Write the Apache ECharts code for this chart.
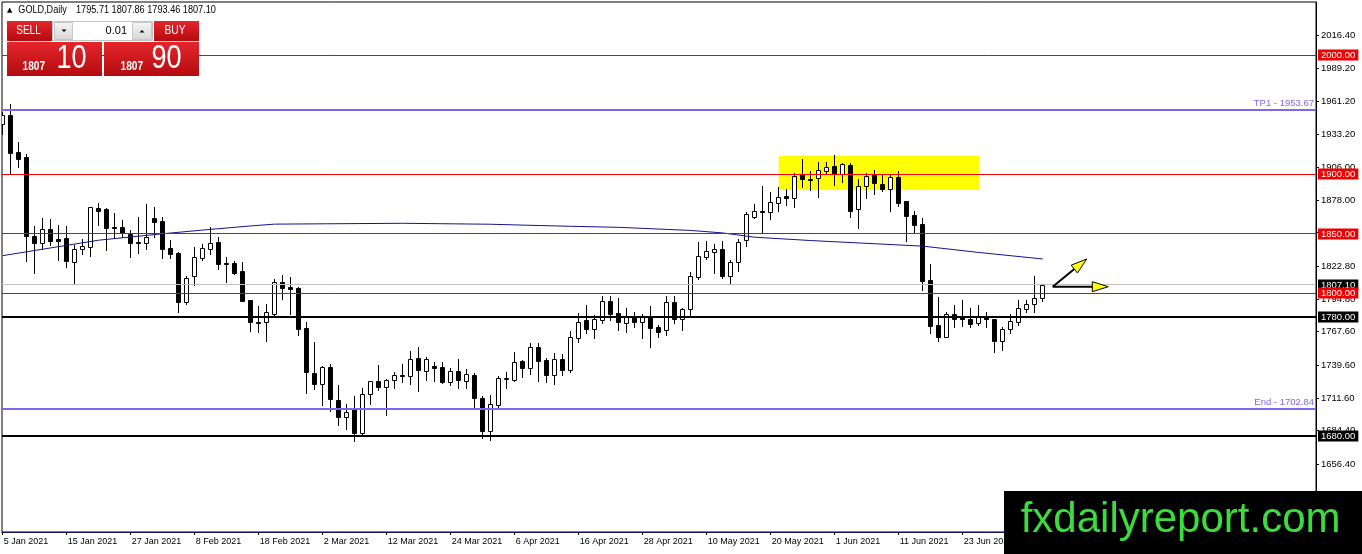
<!DOCTYPE html>
<html>
<head>
<meta charset="utf-8">
<script src="https://cdn.jsdelivr.net/npm/echarts@6/dist/echarts.min.js"></script>
<style>
html,body{margin:0;padding:0;background:#fff;}
#c{width:1362px;height:554px;}
</style>
</head>
<body>
<div id="c"></div>
<script>
// ---- data ----
const tickLabels = ['5 Jan 2021','15 Jan 2021','27 Jan 2021','8 Feb 2021','18 Feb 2021','2 Mar 2021','12 Mar 2021','24 Mar 2021','6 Apr 2021','16 Apr 2021','28 Apr 2021','10 May 2021','20 May 2021','1 Jun 2021','11 Jun 2021','23 Jun 2021','5 Jul 2021'];
const barsPerLabel = 8;

const opens = [
1941.9,1949.7,1918.6,1914.4,1848.3,1842.4,1853.9,1845.2,1846.3,1826.4,
1836.8,1839.0,1871.8,1870.4,1855.9,1855.9,1849.7,1843.3,1841.9,1863.4,
1860.6,1837.6,1833.5,1792.8,1814.7,1829.8,1837.4,1842.7,1825.6,1825.0,
1818.6,1794.2,1775.9,1775.5,1782.2,1809.1,1804.9,1804.3,1770.4,1732.6,
1723.9,1737.6,1710.2,1696.1,1702.3,1682.7,1714.9,1726.1,1721.4,1726.7,
1731.2,1730.6,1745.2,1734.8,1738.7,1738.2,1725.6,1734.5,1726.4,1731.2,
1711.6,1684.4,1706.0,1727.6,1727.0,1742.9,1736.8,1754.4,1743.8,1731.2,
1744.3,1735.4,1762.6,1777.4,1769.9,1777.4,1793.4,1783.0,1774.6,1780.2,
1776.0,1779.7,1771.8,1769.0,1792.3,1778.0,1786.4,1813.3,1830.7,1834.9,
1837.1,1814.7,1825.9,1844.7,1864.3,1869.0,1868.5,1876.0,1881.4,1880.2,
1899.9,1895.9,1896.5,1902.9,1906.9,1900.1,1907.7,1870.4,1890.3,1899.3,
1891.7,1887.5,1897.3,1877.4,1865.7,1858.1,1811.0,1773.2,1763.4,1782.5,
1779.6,1778.3,1774.6,1779.6,1778.0,1760.0,1769.6,1776.0,1786.4,1790.6,1795.71];
const highs = [
1952.5,1959.0,1926.8,1916.9,1856.4,1863.2,1862.6,1857.3,1856.4,1840.2,
1845.2,1872.7,1875.5,1871.3,1867.6,1861.5,1853.1,1864.3,1874.9,1872.1,
1864.3,1844.6,1834.3,1814.4,1839.1,1841.3,1855.9,1847.4,1830.6,1827.3,
1825.9,1794.5,1789.2,1790.6,1811.6,1815.2,1813.3,1805.0,1775.4,1758.6,
1739.0,1740.2,1722.5,1706.5,1713.5,1720.0,1726.5,1739.6,1727.8,1734.0,
1740.2,1751.3,1754.4,1746.0,1742.4,1742.4,1737.3,1744.6,1735.9,1733.1,
1713.5,1714.4,1730.6,1734.0,1750.2,1743.8,1758.4,1757.8,1745.7,1749.4,
1748.8,1768.4,1783.0,1790.0,1781.6,1797.9,1797.9,1795.6,1787.2,1784.4,
1782.5,1789.2,1773.2,1797.9,1797.9,1787.2,1817.5,1843.3,1844.1,1841.3,
1843.8,1827.8,1845.5,1868.5,1874.9,1890.3,1884.7,1889.5,1887.3,1900.7,
1912.5,1903.0,1910.5,1910.5,1916.1,1909.0,1909.1,1895.7,1900.7,1903.5,
1899.3,1899.3,1902.7,1877.8,1869.3,1862.9,1824.5,1797.0,1783.9,1790.0,
1794.2,1787.2,1790.0,1784.4,1778.3,1771.8,1782.5,1794.2,1794.2,1814.4,1807.86];
const lows = [
1933.5,1900.1,1906.3,1827.0,1816.6,1836.8,1840.5,1827.8,1822.2,1808.8,
1832.6,1831.5,1857.3,1836.3,1846.0,1847.4,1830.6,1833.4,1836.8,1847.4,
1829.2,1829.2,1784.4,1790.9,1806.8,1827.8,1832.9,1820.3,1809.6,1815.8,
1793.0,1768.4,1767.6,1760.0,1781.1,1794.8,1782.5,1764.5,1716.3,1719.1,
1706.0,1701.2,1689.1,1685.8,1675.7,1681.3,1706.8,1718.6,1697.5,1720.5,
1725.6,1723.3,1718.0,1727.0,1726.1,1724.2,1722.8,1720.5,1720.0,1704.6,
1677.9,1676.5,1704.6,1720.0,1726.1,1729.8,1732.0,1726.4,1725.6,1723.3,
1731.2,1734.0,1758.6,1766.2,1762.6,1775.2,1777.4,1769.0,1767.6,1771.8,
1762.0,1755.0,1763.4,1764.8,1774.6,1769.0,1781.6,1811.9,1828.7,1816.6,
1812.4,1807.4,1818.9,1839.9,1862.9,1850.3,1862.3,1869.3,1874.1,1872.1,
1889.5,1886.7,1881.1,1900.7,1890.9,1893.7,1864.3,1855.0,1880.2,1883.0,
1885.8,1869.0,1873.5,1844.1,1850.3,1802.6,1766.2,1759.8,1763.0,1771.8,
1772.6,1771.8,1773.2,1771.8,1750.2,1752.2,1766.2,1773.2,1783.9,1783.9,1793.46];
const closes = [
1949.7,1917.5,1913.0,1848.3,1842.4,1853.9,1844.1,1844.1,1827.3,1836.8,
1839.6,1872.1,1869.3,1855.0,1854.5,1850.3,1842.4,1841.9,1847.4,1860.1,
1837.1,1832.9,1792.8,1813.0,1830.1,1837.6,1841.9,1824.8,1824.2,1817.2,
1793.7,1775.5,1775.2,1783.9,1809.1,1804.6,1803.8,1769.6,1734.0,1723.9,
1737.6,1710.7,1696.1,1699.8,1682.7,1714.9,1726.1,1721.4,1727.0,1731.2,
1730.6,1744.3,1735.4,1744.3,1737.3,1725.6,1734.8,1726.7,1731.7,1711.6,
1684.4,1706.5,1728.4,1728.4,1742.4,1736.8,1754.4,1743.2,1731.2,1744.3,
1735.4,1762.8,1776.0,1769.9,1778.0,1793.4,1782.5,1776.0,1779.7,1776.0,
1779.7,1770.9,1767.6,1792.3,1778.0,1786.4,1814.4,1831.2,1835.7,1837.1,
1814.4,1825.9,1842.7,1866.5,1869.0,1868.5,1876.3,1880.5,1880.2,1898.5,
1895.7,1895.4,1903.5,1905.7,1900.1,1908.5,1869.3,1890.3,1898.5,1892.3,
1887.5,1897.3,1876.0,1865.1,1857.3,1810.5,1772.6,1763.4,1782.5,1778.0,
1778.0,1774.0,1780.2,1778.0,1760.0,1769.6,1776.6,1787.2,1790.9,1795.6,1807.10];

// moving average read at a few bars
const maBars   = [0, 12, 20, 25, 31, 34, 50, 61, 66, 71, 77, 86, 90, 94, 101, 115, 122, 130];
const maValues = [1831.5,1844.5,1849.9,1853.0,1856.5,1858.0,1858.7,1857.9,1857.0,1856.2,1855.3,1852.7,1850.6,1847.0,1844.2,1839.5,1834.2,1828.7];

// horizontal levels (value, kind index: 0 red, 1 TP, 2 bid, 3 black, 4 End)
const levelValues = [2000, 1953.67, 1900, 1850, 1807.10, 1800, 1780, 1702.84, 1680];
const levelKinds  = [0, 1, 0, 0, 2, 0, 3, 4, 3];

// right axis tick labels
const priceTicks = [2016.40,1989.20,1961.20,1933.20,1906.00,1878.00,1850.80,1822.80,1794.80,1767.60,1739.60,1711.60,1684.40,1656.40];

// yellow zone and arrows (bar index, price)
const zoneFrom = [97.0, 1915.3];
const zoneTo   = [122.1, 1886.7];
const arrows = [[131.25, 1805.4, 135.5, 1828.7],[131.25, 1805.4, 138.2, 1805.4]];

// header quote
const quote = {symbol:'GOLD,Daily', open:'1795.71', high:'1807.86', low:'1793.46', close:'1807.10', bidBig:'1807', bidSmall:'10', askBig:'1807', askSmall:'90', lot:'0.01'};

// ---- chart ----
const FONT = 'Liberation Sans';
const chart = echarts.init(document.getElementById('c'), null, {renderer:'canvas'});

const candleData = opens.map((o,i)=>[i,o,highs[i],lows[i],closes[i]]);
const maData = maBars.map((b,i)=>[b,maValues[i]]);
const levelData = levelValues.map((v,i)=>[0, v, levelKinds[i]]);

const KIND_STYLE = [
  {line:'#f00000', width:1, box:'#f00000'},
  {line:'#7b68ee', width:2, text:'TP1 - '},
  {line:'#c0c0c0', width:1, box:'#000000'},
  {line:'#000000', width:2, box:'#000000'},
  {line:'#7b68ee', width:2, text:'End - '}
];

const redGrad = ()=> new echarts.graphic.LinearGradient(0,0,0,1,[{offset:0,color:'#e4262b'},{offset:1,color:'#b30b10'}]);
const greyGrad = ()=> new echarts.graphic.LinearGradient(0,0,0,1,[{offset:0,color:'#f6f6f6'},{offset:1,color:'#d6d6d6'}]);

const option = {
  animation:false,
  backgroundColor:'#fff',
  textStyle:{fontFamily:FONT},
  grid:{left:2, top:2, width:1314, height:530, show:true, borderColor:'#000', borderWidth:1, backgroundColor:'#fff', containLabel:false, outerBoundsMode:'none'},
  xAxis:{
    type:'value', min:-0.0875, max:164.1625, position:'bottom',
    axisLine:{show:true, onZero:false, lineStyle:{color:'#16165c', width:1}},
    axisTick:{show:true, length:3, lineStyle:{color:'#000'}, customValues:tickLabels.map((t,i)=>i*barsPerLabel)},
    axisLabel:{show:true, customValues:tickLabels.map((t,i)=>i*barsPerLabel), formatter:(v)=>tickLabels[Math.round(v/barsPerLabel)]||'',
      align:'left', margin:5, fontSize:9, color:'#000', fontFamily:FONT, padding:[0,0,0,1]},
    splitLine:{show:false}
  },
  yAxis:{
    type:'value', min:1599.19, max:2044.73, position:'right',
    axisLine:{show:true, onZero:false, lineStyle:{color:'#000', width:1}},
    axisTick:{show:true, length:3, lineStyle:{color:'#000'}, customValues:priceTicks},
    axisLabel:{show:true, customValues:priceTicks, formatter:(v)=>v.toFixed(2), margin:5, fontSize:9.5, color:'#000', fontFamily:FONT},
    splitLine:{show:false}
  },
  series:[
    {
      type:'custom', name:'GOLD', z:2, silent:true, clip:true,
      encode:{x:0, y:[1,2,3,4]},
      data:candleData,
      renderItem:function(params, api){
        const i=api.value(0), o=api.value(1), h=api.value(2), l=api.value(3), c=api.value(4);
        const pO=api.coord([i,o]), pC=api.coord([i,c]), pH=api.coord([i,h]), pL=api.coord([i,l]);
        const cx=Math.floor(pO[0])+0.5;
        const top=Math.round(Math.min(pO[1],pC[1]))+0.5;
        const bot=Math.max(Math.round(Math.max(pO[1],pC[1]))+0.5, top);
        const bull=c>o;
        return {type:'group', children:[
          {type:'line', shape:{x1:cx, y1:Math.round(pH[1]), x2:cx, y2:Math.round(pL[1])+1}, style:{stroke:'#000', lineWidth:1}},
          {type:'rect', shape:{x:cx-2, y:top, width:4, height:bot-top}, style:{fill:bull?'#fff':'#000', stroke:'#000', lineWidth:1}}
        ]};
      },
      markArea:{silent:true, itemStyle:{color:'#ffff00', opacity:1, borderWidth:0},
        data:[[{coord:zoneFrom},{coord:zoneTo}]]}
    },
    {
      type:'line', name:'MA', z:3, silent:true, data:maData, showSymbol:false, symbol:'none', clip:true,
      lineStyle:{color:'#14148c', width:1}
    },
    {
      type:'custom', name:'levels', z:5, silent:true, clip:false,
      encode:{x:0, y:1},
      data:levelData,
      renderItem:function(params, api){
        const v=api.value(1), k=KIND_STYLE[api.value(2)];
        const cs=params.coordSys;
        const p=api.coord([0, v]);
        const y = k.width===1 ? Math.round(p[1]-0.5)+0.5 : Math.round(p[1]);
        const txt=v.toFixed(2);
        const children=[{type:'line', shape:{x1:cs.x, y1:y, x2:cs.x+cs.width, y2:y}, style:{stroke:k.line, lineWidth:k.width}}];
        if(k.box){
          children.push({type:'text', x:cs.x+cs.width+2, y:Math.round(p[1]), style:{text:txt, fill:'#fff', backgroundColor:k.box,
            padding:[1,3,0,3], fontSize:9.5, fontFamily:FONT, lineHeight:10, align:'left', verticalAlign:'middle'}});
        } else {
          children.push({type:'text', x:cs.x+cs.width-2, y:Math.round(p[1])-2, style:{text:k.text+txt, fill:k.line,
            fontSize:9.5, fontFamily:FONT, align:'right', verticalAlign:'bottom'}});
        }
        return {type:'group', children:children};
      }
    },
    {
      type:'custom', name:'arrows', z:6, silent:true, clip:false,
      encode:{x:[0,2], y:[1,3]},
      data:arrows,
      renderItem:function(params, api){
        const a=api.coord([api.value(0),api.value(1)]);
        const b=api.coord([api.value(2),api.value(3)]);
        const dx=b[0]-a[0], dy=b[1]-a[1], len=Math.hypot(dx,dy), ux=dx/len, uy=dy/len;
        const L=16, W=5;
        const bx=b[0]-ux*L, by=b[1]-uy*L;
        return {type:'group', children:[
          {type:'line', shape:{x1:a[0],y1:a[1],x2:bx+ux*2,y2:by+uy*2}, style:{stroke:'#000', lineWidth:2}},
          {type:'polygon', shape:{points:[[b[0],b[1]],[bx-uy*W,by+ux*W],[bx+uy*W,by-ux*W]]}, style:{fill:'#ffff00', stroke:'#000', lineWidth:1}}
        ]};
      }
    }
  ],
  graphic:{elements:[
    // header
    {type:'text', x:7, y:10, z:100, style:{text:'▲', fontSize:7, fill:'#000', verticalAlign:'middle', fontFamily:'DejaVu Sans'}},
    {type:'text', x:18.3, y:10, z:100, scaleX:0.91, style:{text:quote.symbol, fontSize:10, fill:'#000', verticalAlign:'middle', fontFamily:FONT}},
    {type:'text', x:76, y:10, z:100, scaleX:0.915, style:{text:[quote.open,quote.high,quote.low,quote.close].join(' '), fontSize:10, fill:'#000', verticalAlign:'middle', fontFamily:FONT}},
    // sell / buy buttons
    {type:'rect', z:100, shape:{x:7,y:21,width:45,height:20}, style:{fill:redGrad()}},
    {type:'rect', z:100, shape:{x:154,y:21,width:45,height:20}, style:{fill:redGrad()}},
    {type:'text', z:101, x:28.5, y:31, scaleX:0.8, style:{text:'SELL', fontSize:12.5, fill:'#fff', align:'center', verticalAlign:'middle', fontFamily:FONT}},
    {type:'text', z:101, x:175, y:31, scaleX:0.82, style:{text:'BUY', fontSize:12.5, fill:'#fff', align:'center', verticalAlign:'middle', fontFamily:FONT}},
    {type:'line', z:101, shape:{x1:10,y1:41.5,x2:50,y2:41.5}, style:{stroke:'rgba(255,190,190,0.9)', lineWidth:1}},
    {type:'line', z:101, shape:{x1:158,y1:41.5,x2:196,y2:41.5}, style:{stroke:'rgba(255,190,190,0.9)', lineWidth:1}},
    // lot spinner
    {type:'rect', z:100, shape:{x:52.5,y:21.5,width:100,height:19}, style:{fill:'#fff', stroke:'#c4c4c4', lineWidth:1}},
    {type:'rect', z:101, shape:{x:54.5,y:22.5,width:18,height:17}, style:{fill:greyGrad(), stroke:'#c8c8c8', lineWidth:1}},
    {type:'rect', z:101, shape:{x:132.5,y:22.5,width:19,height:17}, style:{fill:greyGrad(), stroke:'#c8c8c8', lineWidth:1}},
    {type:'polygon', z:102, shape:{points:[[61.5,29.5],[66.5,29.5],[64,32]]}, style:{fill:'#000'}},
    {type:'polygon', z:102, shape:{points:[[139.5,32.5],[144.5,32.5],[142,30]]}, style:{fill:'#000'}},
    {type:'text', z:102, x:127, y:31, style:{text:quote.lot, fontSize:11, fill:'#000', align:'right', verticalAlign:'middle', fontFamily:FONT}},
    // price boxes
    {type:'rect', z:100, shape:{x:7,y:42,width:95,height:34}, style:{fill:redGrad()}},
    {type:'rect', z:100, shape:{x:104,y:42,width:95,height:34}, style:{fill:redGrad()}},
    {type:'text', z:101, x:22.5, y:66, scaleX:0.78, style:{text:quote.bidBig, fontSize:13, fontWeight:'bold', fill:'#fff', verticalAlign:'middle', fontFamily:FONT}},
    {type:'text', z:101, x:56.5, y:58.7, scaleX:0.82, style:{text:quote.bidSmall, fontSize:33, fill:'#fff', verticalAlign:'middle', fontFamily:FONT}},
    {type:'text', z:101, x:120.5, y:66, scaleX:0.78, style:{text:quote.askBig, fontSize:13, fontWeight:'bold', fill:'#fff', verticalAlign:'middle', fontFamily:FONT}},
    {type:'text', z:101, x:151.5, y:58.7, scaleX:0.82, style:{text:quote.askSmall, fontSize:33, fill:'#fff', verticalAlign:'middle', fontFamily:FONT}},
    // watermark box
    {type:'rect', z:110, shape:{x:1004,y:491,width:358,height:63}, style:{fill:'#000'}},
    {type:'text', z:111, x:1020.7, y:520, style:{text:'fxdailyreport.com', fontSize:42, fill:'#3cdc3c', verticalAlign:'middle', fontFamily:FONT}}
  ]}
};
chart.setOption(option);
</script>
</body>
</html>
